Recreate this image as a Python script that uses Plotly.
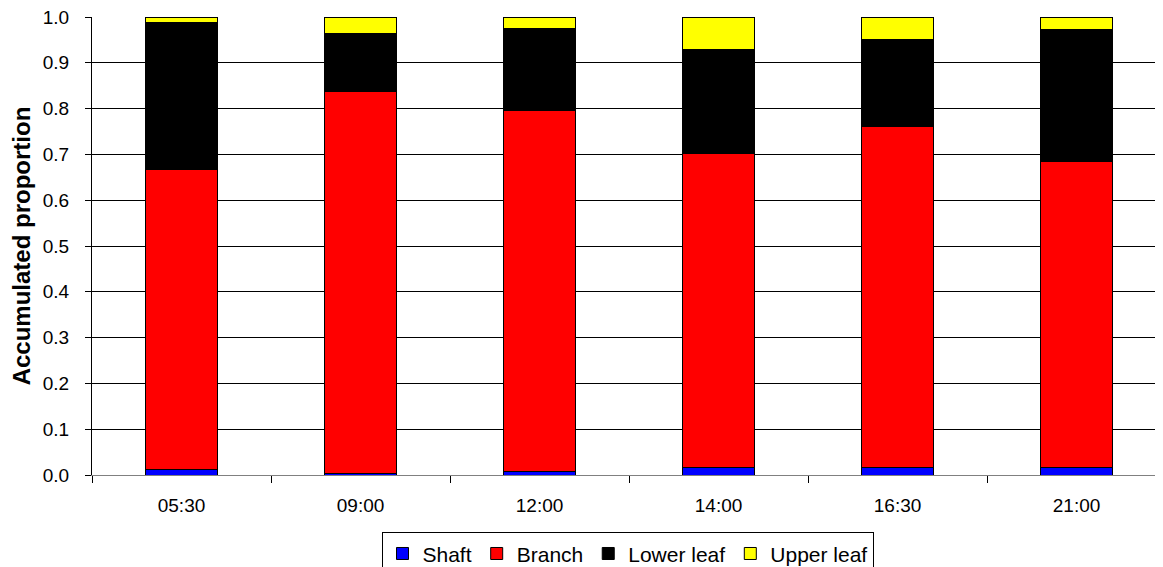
import plotly.graph_objects as go

times = ["05:30", "09:00", "12:00", "14:00", "16:30", "21:00"]
shaft = [0.012, 0.003, 0.008, 0.016, 0.017, 0.016]
branch = [0.656, 0.835, 0.787, 0.685, 0.743, 0.668]
lower_leaf = [0.319, 0.125, 0.180, 0.228, 0.191, 0.288]
upper_leaf = [0.013, 0.037, 0.025, 0.071, 0.049, 0.028]
y_ticks = [0.0, 0.1, 0.2, 0.3, 0.4, 0.5, 0.6, 0.7, 0.8, 0.9, 1.0]

series = [
    ("Shaft", shaft, "#0000FF"),
    ("Branch", branch, "#FF0000"),
    ("Lower leaf", lower_leaf, "#000000"),
    ("Upper leaf", upper_leaf, "#FFFF00"),
]

fig = go.Figure()
for name, vals, col in series:
    fig.add_trace(go.Bar(
        x=times, y=vals, name=name,
        marker=dict(color=col, line=dict(color="#000000", width=1)),
    ))

font = "Liberation Sans, Arial, sans-serif"
fig.update_layout(
    barmode="stack",
    bargap=0.6,
    width=1155, height=559,
    margin=dict(l=84, r=0, t=9, b=92),
    plot_bgcolor="white", paper_bgcolor="white",
    font=dict(family=font, size=19, color="black"),
    showlegend=True,
    legend=dict(
        orientation="h", x=0.5, xanchor="center", xref="paper",
        y=0.062, yanchor="top", yref="container",
        bordercolor="black", borderwidth=1, font=dict(size=21),
        itemwidth=30, tracegroupgap=0, traceorder="normal",
    ),
    xaxis=dict(
        type="category", range=[-0.5, 5.483], automargin=False,
        showline=True, linecolor="#808080", linewidth=1,
        ticks="outside", tickson="boundaries", ticklen=7, tickcolor="#000000",
        showgrid=False, tickfont=dict(size=19), ticklabelstandoff=13,
    ),
    yaxis=dict(
        range=[0, 1.0], tickvals=y_ticks, tickformat=".1f", automargin=False,
        showline=True, linecolor="#000000", linewidth=1,
        ticks="outside", ticklen=6, tickcolor="#000000", ticklabelstandoff=12,
        ticklabeloverflow="allow",
        showgrid=True, gridcolor="#000000", gridwidth=1,
        zeroline=False, tickfont=dict(size=19),
        title=dict(text="<b>Accumulated proportion</b>", font=dict(size=24), standoff=5),
    ),
)

fig.write_html("out.html")
